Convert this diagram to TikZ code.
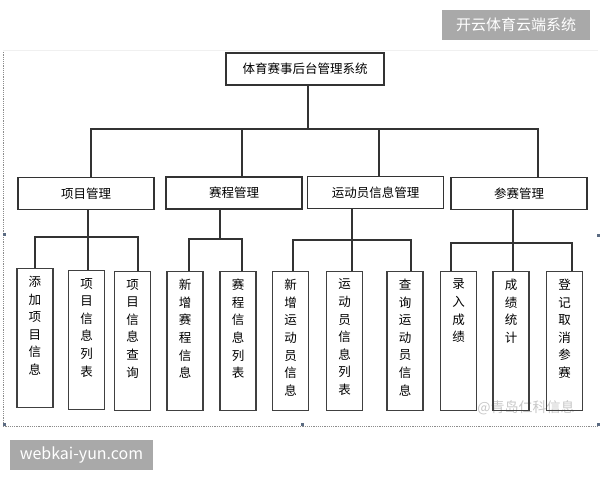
\documentclass[tikz,border=0pt]{standalone}
\usepackage{fontspec}
\setmainfont{Noto Sans CJK SC}
\usetikzlibrary{positioning,calc}

\definecolor{stamp}{HTML}{A9A9A9}
\definecolor{handle}{HTML}{5B6B82}

% vertical text for the leaf boxes, one character per line
\newcommand{\vlabel}[1]{\parbox[c][124pt][t]{16pt}{\centering\fontsize{12.5}{17.6}\selectfont #1}}

\begin{document}
\begin{tikzpicture}[
  x=1pt,y=-1pt,
  font=\fontsize{12.5}{15}\selectfont,
  root/.style={draw=black!80, line width=1.1pt, minimum width=158pt, minimum height=32pt, inner sep=0pt},
  part/.style={draw=black!80, line width=1.1pt, minimum width=136pt, minimum height=32pt, inner sep=0pt},
  leaf/.style={draw=black!75, line width=1.1pt, minimum width=36pt, minimum height=139pt, inner sep=0pt, anchor=north},
  link/.style={draw=black!80, line width=1.1pt},
  frame/.style={draw=black!45, line width=0.6pt, dash pattern=on 1.2pt off 1pt},
  tag/.style={fill=stamp, text=white, inner sep=0pt},
  grip/.style={fill=handle, minimum size=3pt, inner sep=0pt}
]
\useasboundingbox (0,0) rectangle (600,480);

% page frame and watermarks
\draw[frame] (3,50) -- (3,426) -- (598,426);
\draw[draw=black!6, line width=0.5pt] (3,50) -- (598,50);
\node[grip] (g1) at (4.5,234) {};
\node[grip] (g2) at (4.5,424) {};
\node[grip] (g3) at (302,424) {};
\node[grip] (g4) at (598,424) {};
\node[grip] (g5) at (598,235) {};
\node[tag, minimum width=148pt, minimum height=30pt, font=\fontsize{15}{15}\selectfont] (stampA) at (516,25) {开云体育云端系统};
\node[tag, minimum width=143pt, minimum height=30pt, font=\fontsize{16}{16}\selectfont] (stampB) at (81.5,455) {webkai-yun.com};
\node[text=black!22, font=\fontsize{14}{14}\selectfont] (mark) at (526,408) {@青岛仁科信息};

% ================= top level =================
\node[root] (root) at (305,69) {体育赛事后台管理系统};
\coordinate (bus) at (0,129);

\node[part] (pm1) at (86,193.5) {项目管理};
\node[part] (pm2) at (234,193) {赛程管理};
\node[part] (pm3) at (375.5,192.5) {运动员信息管理};
\node[part] (pm4) at (519,193.5) {参赛管理};

\draw[link] ([xshift=3pt]root.south) -- ([xshift=3pt]root.south |- bus);
\draw[link] ([xshift=5pt]pm1.north) |- ([xshift=19pt]pm4.north |- bus) -- ([xshift=19pt]pm4.north);
\draw[link] ([xshift=8pt]pm2.north) -- ([xshift=8pt]pm2.north |- bus);
\draw[link] ([xshift=3.5pt]pm3.north) -- ([xshift=3.5pt]pm3.north |- bus);

% ================= leaves =================
\node[leaf] (l1) at (35,268) {\vlabel{添\\加\\项\\目\\信\\息}};
\node[leaf] (l2) at (86.5,270) {\vlabel{项\\目\\信\\息\\列\\表}};
\node[leaf] (l3) at (132.5,271) {\vlabel{项\\目\\信\\息\\查\\询}};

\node[leaf] (l4) at (185,271) {\vlabel{新\\增\\赛\\程\\信\\息}};
\node[leaf] (l5) at (238,271) {\vlabel{赛\\程\\信\\息\\列\\表}};

\node[leaf] (l6) at (290.5,271) {\vlabel{新\\增\\运\\动\\员\\信\\息}};
\node[leaf] (l7) at (344.5,271) {\vlabel{运\\动\\员\\信\\息\\列\\表}};
\node[leaf] (l8) at (405,271) {\vlabel{查\\询\\运\\动\\员\\信\\息}};

\node[leaf] (l9) at (458.5,271) {\vlabel{录\\入\\成\\绩}};
\node[leaf] (l10) at (511,271) {\vlabel{成\\绩\\统\\计}};
\node[leaf] (l11) at (564.5,271) {\vlabel{登\\记\\取\\消\\参\\赛}};

% project group
\coordinate (subA) at (0,237);
\draw[link] ([xshift=2pt]pm1.south) -- ([xshift=1.5pt]l2.north);
\draw[link] (l1.north) |- ([xshift=5.5pt]l3.north |- subA) -- ([xshift=5.5pt]l3.north);

% schedule group
\coordinate (subB) at (0,239);
\draw[link] ([xshift=-14pt]pm2.south) -- ([xshift=-14pt]pm2.south |- subB);
\draw[link] ([xshift=4pt]l4.north) |- ([xshift=4pt]l5.north |- subB) -- ([xshift=4pt]l5.north);

% athlete group
\coordinate (subC) at (0,240);
\draw[link] ([xshift=-23.5pt]pm3.south) -- ([xshift=7.5pt]l7.north);
\draw[link] ([xshift=2.5pt]l6.north) |- ([xshift=6pt]l8.north |- subC) -- ([xshift=6pt]l8.north);

% entry group
\coordinate (subD) at (0,243);
\draw[link] ([xshift=-6pt]pm4.south) -- ([xshift=2pt]l10.north);
\draw[link] ([xshift=-7.5pt]l9.north) |- ([xshift=7.5pt]l11.north |- subD) -- ([xshift=7.5pt]l11.north);

\end{tikzpicture}
\end{document}
